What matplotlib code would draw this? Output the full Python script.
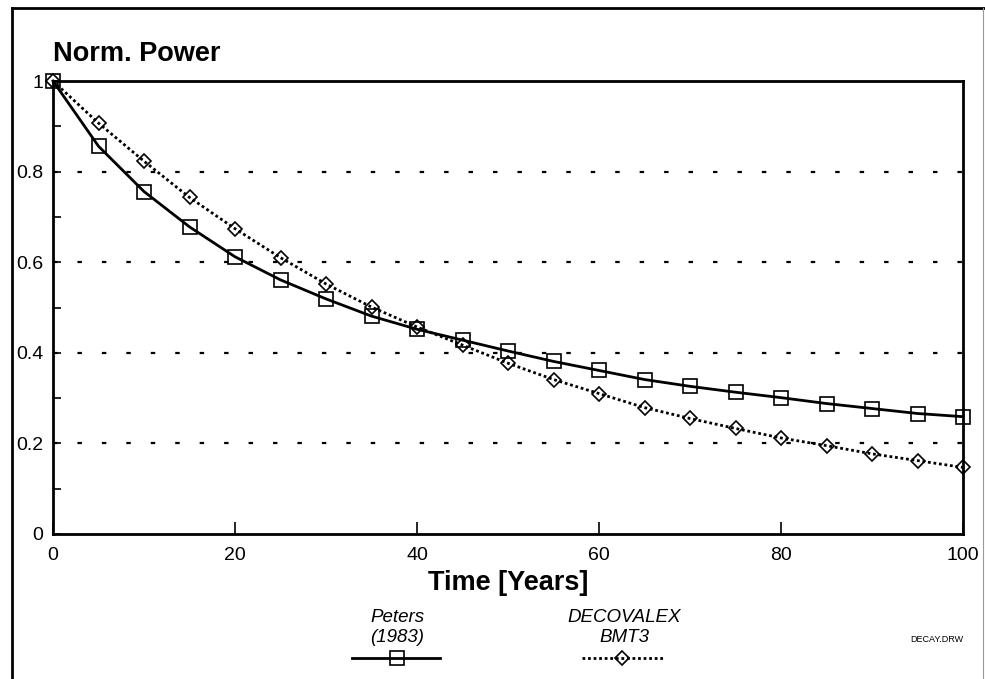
import matplotlib.pyplot as plt
from matplotlib.lines import Line2D

plt.rcParams['font.family'] = ['Liberation Sans', 'DejaVu Sans']

# data
anos = [0, 5, 10, 15, 20, 25, 30, 35, 40, 45, 50, 55, 60, 65, 70, 75, 80, 85, 90, 95, 100]
peters = [1.0, 0.856, 0.756, 0.678, 0.612, 0.561, 0.519, 0.481, 0.452, 0.428, 0.404,
          0.381, 0.361, 0.341, 0.326, 0.313, 0.301, 0.288, 0.277, 0.266, 0.259]
decovalex = [1.0, 0.907, 0.823, 0.743, 0.674, 0.610, 0.552, 0.501, 0.457, 0.417, 0.377,
             0.341, 0.310, 0.279, 0.255, 0.233, 0.212, 0.195, 0.177, 0.162, 0.147]
xticks = [0, 20, 40, 60, 80, 100]
yticks = [0, 0.2, 0.4, 0.6, 0.8, 1]
ylabels = ["0", "0.2", "0.4", "0.6", "0.8", "1"]

W, H = 985, 679
fig = plt.figure(figsize=(W / 100, H / 100), dpi=100)
ax = fig.add_axes([53 / W, 1 - 534 / H, 910 / W, (534 - 81) / H])

# lineas punteadas de la grilla
for g in [0.2, 0.4, 0.6, 0.8]:
    ax.axhline(g, color="k", lw=1.6, ls=(0, (2, 9)), zorder=1)

ax.plot(anos, peters, color="k", lw=2, marker="s", ms=10, mfc="none", mec="k", mew=1.2,
        clip_on=False, zorder=3)
ax.plot(anos, decovalex, color="k", lw=2, ls=(0, (1, 1)), marker="D", ms=7, mfc="none",
        mec="k", mew=1.2, clip_on=False, zorder=3)

ax.set_xlim(0, 100)
ax.set_ylim(0, 1)
ax.set_xticks(xticks)
ax.set_yticks(yticks)
ax.set_yticklabels(ylabels)
ax.set_yticks([0.1, 0.3, 0.5, 0.7, 0.9], minor=True)
ax.tick_params(axis="both", direction="in", labelsize=14, width=1.2)
ax.tick_params(axis="x", length=9, pad=9)
ax.tick_params(axis="y", length=6, pad=7)
ax.tick_params(axis="y", which="minor", direction="in", length=6, width=1.2)
for s in ax.spines.values():
    s.set_linewidth(2)

fig.text(53 / W, 1 - 54 / H, "Norm. Power", fontsize=19.5, fontweight="bold", va="center", ha="left")
fig.text(508 / W, 1 - 583 / H, "Time [Years]", fontsize=19.5, fontweight="bold", va="center", ha="center")

# leyenda a mano
fig.text(397 / W, 1 - 617 / H, "Peters", fontsize=13.5, style="italic", ha="center", va="center")
fig.text(397 / W, 1 - 637 / H, "(1983)", fontsize=13.5, style="italic", ha="center", va="center")
fig.text(624 / W, 1 - 617 / H, "DECOVALEX", fontsize=13.5, style="italic", ha="center", va="center")
fig.text(624 / W, 1 - 637 / H, "BMT3", fontsize=13.5, style="italic", ha="center", va="center")
fig.add_artist(Line2D([352 / W, 440 / W], [1 - 658 / H] * 2, color="k", lw=2, transform=fig.transFigure))
fig.add_artist(Line2D([397 / W], [1 - 658 / H], marker="s", ms=10, mfc="none", mec="k", mew=1.2,
                      transform=fig.transFigure))
fig.add_artist(Line2D([582 / W, 664 / W], [1 - 658 / H] * 2, color="k", lw=2, ls=(0, (1, 1)),
                      transform=fig.transFigure))
fig.add_artist(Line2D([622 / W], [1 - 658 / H], marker="D", ms=7, mfc="none", mec="k", mew=1.2,
                      transform=fig.transFigure))
fig.text(937 / W, 1 - 640 / H, "DECAY.DRW", fontsize=6.5, ha="center", va="center")

# marco exterior
fig.add_artist(Line2D([12 / W, 12 / W], [0, 1 - 8 / H], color="k", lw=2, transform=fig.transFigure))
fig.add_artist(Line2D([12 / W, 1], [1 - 8 / H, 1 - 8 / H], color="k", lw=2, transform=fig.transFigure))
fig.add_artist(Line2D([983 / W, 983 / W], [0, 1 - 8 / H], color="0.6", lw=0.8, transform=fig.transFigure))

plt.savefig("out.png", dpi=100)
